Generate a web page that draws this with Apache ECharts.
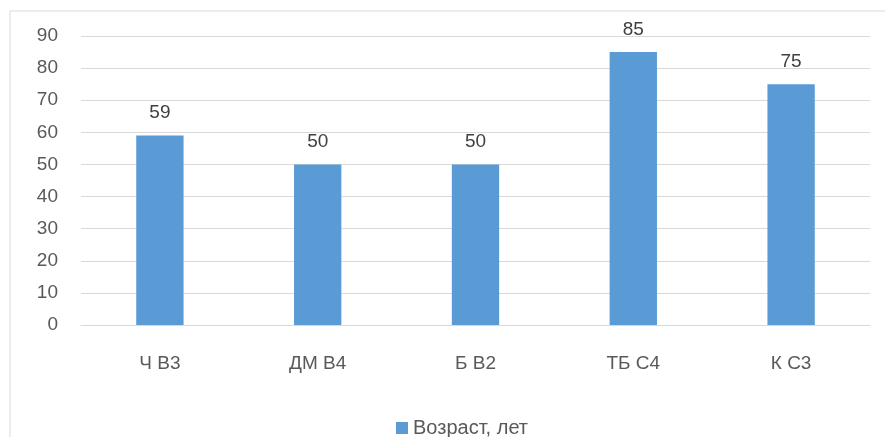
<!DOCTYPE html>
<html>
<head>
<meta charset="utf-8">
<script src="https://cdn.jsdelivr.net/npm/echarts@6/dist/echarts.min.js"></script>
<style>
	html, body { margin: 0; padding: 0; background: #fff; }
	#chart { width: 885px; height: 437px; }
</style>
</head>
<body>
<div id="chart"></div>
<script>
	const categories = ["Ч В3", "ДМ В4", "Б В2", "ТБ С4", "К С3"];
	const seriesName = "Возраст, лет";
	const ages = [59, 50, 50, 85, 75];
	const yTicks = { min: 0, max: 90, interval: 10 };

	const textColor = "#595959";
	const gridColor = "#d9d9d9";
	const fontFamily = "'Liberation Sans', 'DejaVu Sans', sans-serif";

	const chart = echarts.init(document.getElementById("chart"));
	chart.setOption({
		animation: false,
		graphic: [
			{
				type: "rect",
				shape: { x: 10, y: 11, width: 900, height: 460 },
				style: { fill: "none", stroke: gridColor, lineWidth: 1 }
			}
		],
		grid: {
			left: 81,
			right: 15,
			top: 36,
			bottom: 112
		},
		legend: {
			left: 391,
			top: 413,
			itemWidth: 12,
			itemHeight: 12,
			icon: "rect",
			textStyle: { color: textColor, fontSize: 20, fontFamily }
		},
		xAxis: {
			type: "category",
			data: categories,
			axisLine: { lineStyle: { color: gridColor } },
			axisTick: { show: false },
			axisLabel: { color: textColor, fontSize: 19, fontFamily, margin: 29 }
		},
		yAxis: {
			type: "value",
			min: yTicks.min,
			max: yTicks.max,
			interval: yTicks.interval,
			axisLine: { show: false },
			axisTick: { show: false },
			splitLine: { lineStyle: { color: gridColor } },
			axisLabel: { color: textColor, fontSize: 19, fontFamily, margin: 23 }
		},
		series: [
			{
				name: seriesName,
				type: "bar",
				data: ages,
				barWidth: "30%",
				itemStyle: { color: "#5b9bd5" },
				label: {
					show: true,
					position: "top",
					distance: 13,
					color: "#404040",
					fontSize: 19,
					fontFamily
				}
			}
		]
	});
</script>
</body>
</html>
